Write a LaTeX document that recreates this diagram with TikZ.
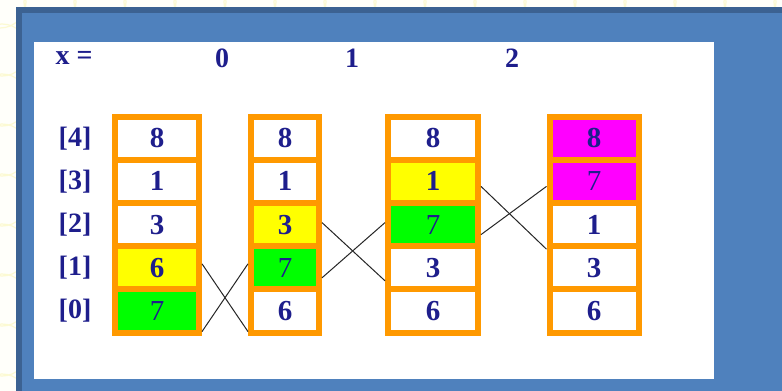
\documentclass[tikz,border=0pt]{standalone}
\usepackage{fontspec}
\setmainfont{Liberation Serif}
\definecolor{cream}{RGB}{255,255,250}
\definecolor{ringyellow}{RGB}{252,250,210}
\definecolor{panelblue}{RGB}{79,129,189}
\definecolor{paneledge}{RGB}{60,98,146}
\definecolor{boxorange}{RGB}{255,153,0}
\definecolor{numblue}{RGB}{30,30,140}
\definecolor{cellyellow}{RGB}{255,255,0}
\definecolor{cellgreen}{RGB}{0,255,0}
\definecolor{cellpink}{RGB}{255,0,255}
\tikzset{
  cell/.style={draw=boxorange, line width=6pt, minimum height=43.2pt, inner sep=0pt,
    text=numblue, font=\bfseries\fontsize{29}{30}\selectfont},
  lbl/.style={text=numblue, inner sep=0pt, font=\bfseries\fontsize{28}{30}\selectfont},
  swapline/.style={draw=black!85, line width=1pt}
}
\begin{document}
\begin{tikzpicture}[x=1pt,y=-1pt]
\useasboundingbox (0,0) rectangle (782,391);
\fill[cream] (0,0) rectangle (782,391);
% faint rings round the edge
\begin{scope}
 \clip (0,0) rectangle (782,7) (0,7) rectangle (16,391);
 \foreach \i in {0,...,16}
  \draw[ringyellow, line width=1.2pt] (\i*50,2) circle (26pt);
 \foreach \j in {1,...,8}
  \draw[ringyellow, line width=1.2pt] (2,\j*50) circle (26pt);
\end{scope}
% panel
\fill[paneledge] (16,7) rectangle (782,391);
\fill[panelblue] (22,13) rectangle (782,391);
\fill[white] (34,42) rectangle (714,379);

\node[lbl] (xlab) at (74,58) {x =};
\node[lbl] (x0) at (222,58) {0};
\node[lbl] (x1) at (352,58) {1};
\node[lbl] (x2) at (512,58) {2};

\foreach \r in {0,...,4}
 \node[lbl] (r\r) at (75,{311-43.2*\r}) {[\r]};

% start
\foreach \v/\c/\r in {8/white/4, 1/white/3, 3/white/2, 6/cellyellow/1, \textmd{7}/cellgreen/0}
 \node[cell, fill=\c, minimum width=84pt] (a\r) at (157,{311-43.2*\r}) {\v};
% x = 0
\foreach \v/\c/\r in {8/white/4, 1/white/3, 3/cellyellow/2, \textmd{7}/cellgreen/1, 6/white/0}
 \node[cell, fill=\c, minimum width=68pt] (b\r) at (285,{311-43.2*\r}) {\v};
% x = 1
\foreach \v/\c/\r in {8/white/4, 1/cellyellow/3, \textmd{7}/cellgreen/2, 3/white/1, 6/white/0}
 \node[cell, fill=\c, minimum width=90pt] (c\r) at (433,{311-43.2*\r}) {\v};
% x = 2
\foreach \v/\c/\r in {8/cellpink/4, \textmd{7}/cellpink/3, 1/white/2, 3/white/1, 6/white/0}
 \node[cell, fill=\c, minimum width=89pt] (d\r) at (594,{311-43.2*\r}) {\v};

% swaps
\draw[swapline] ([yshift=4pt]a1.east) -- ([yshift=4pt]b0.south west);
\draw[swapline] ([yshift=4pt]a0.south east) -- ([yshift=4pt]b1.west);
\draw[swapline] ([yshift=2pt]b2.east) -- ([yshift=-13pt]c1.west);
\draw[swapline] ([yshift=-10pt]b1.east) -- ([yshift=2pt]c2.west);
\draw[swapline] ([yshift=-5pt]c3.east) -- (d2.south west);
\draw[swapline] ([yshift=-10pt]c2.east) -- ([yshift=-5pt]d3.west);
\end{tikzpicture}
\end{document}
